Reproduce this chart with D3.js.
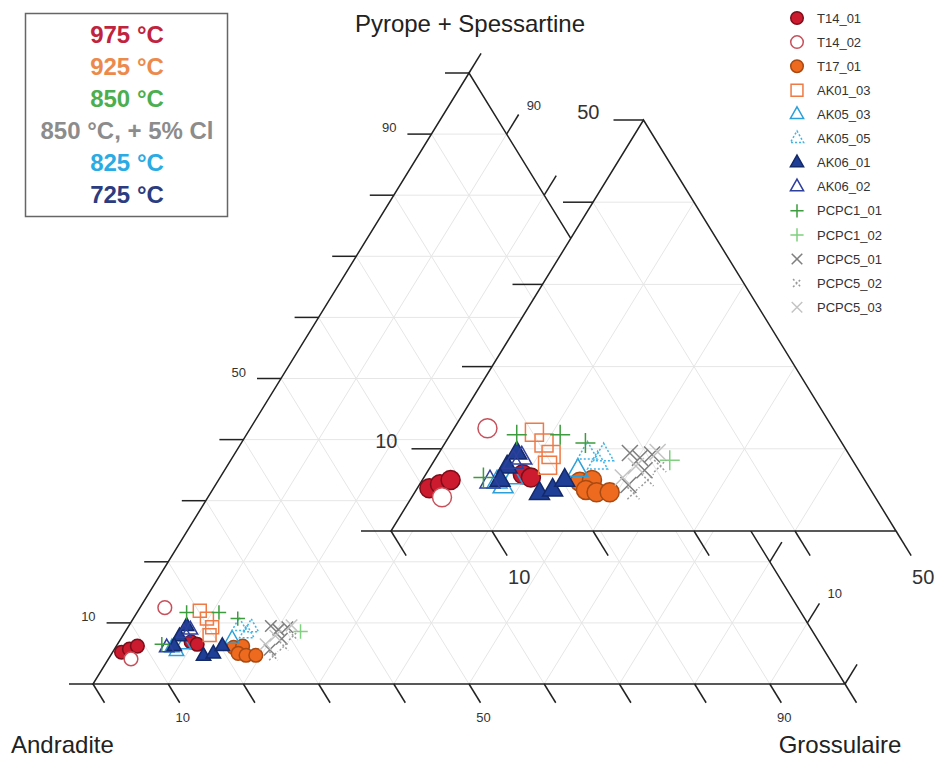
<!DOCTYPE html>
<html>
<head>
<meta charset="utf-8">
<script src="https://cdn.jsdelivr.net/npm/d3@7"></script>
<style>
  body { margin: 0; background: #fff; }
  svg { display: block; font-family: "Liberation Sans", Arial, sans-serif; }
</style>
</head>
<body>
<div id="chart"></div>
<script>
// Garnet compositions: [grossulaire, pyrope + spessartine] in %, andradite = 100 - both
const t14_01 = [[1.2, 5.2], [2.0, 5.7], [2.8, 6.2], [9.6, 6.9], [10.6, 6.5]];
const t14_02 = [[3.3, 12.5], [3.0, 4.1]];
const t17_01 = [[15.7, 6.0], [16.8, 6.2], [16.8, 5.0], [18.0, 4.7], [19.3, 4.7]];
const ak01_03 = [[8.2, 12.0], [9.8, 10.7], [11.2, 9.3], [11.5, 8.0]];
const ak05_03 = [[7.5, 6.0], [8.4, 5.4], [8.8, 6.5], [14.8, 7.4]];
const ak05_05 = [[14.7, 9.5], [16.3, 8.3], [16.4, 9.3]];
const ak06_01 = [[7.6, 7.8], [7.7, 9.5], [7.7, 6.2], [12.4, 4.6], [13.5, 5.0], [14.1, 6.2]];
const ak06_02 = [[6.8, 6.0], [7.9, 8.4], [8.5, 8.9]];
const pcpc1_01 = [[6.6, 11.7], [10.9, 11.7], [13.9, 10.7], [5.9, 6.5]];
const pcpc1_02 = [[23.3, 8.6]];
const pcpc5_01 = [[18.9, 9.5], [20.2, 8.9], [21.2, 9.3], [20.7, 5.6], [21.4, 7.4]];
const pcpc5_02 = [[21.7, 4.6], [22.3, 6.2], [22.7, 7.9]];
const pcpc5_03 = [[19.7, 6.5], [21.6, 9.6], [20.3, 7.9]];

const seriesNames = [
  "T14_01", "T14_02", "T17_01", "AK01_03", "AK05_03", "AK05_05", "AK06_01",
  "AK06_02", "PCPC1_01", "PCPC1_02", "PCPC5_01", "PCPC5_02", "PCPC5_03",
];
const seriesValues = [
  t14_01, t14_02, t17_01, ak01_03, ak05_03, ak05_05, ak06_01,
  ak06_02, pcpc1_01, pcpc1_02, pcpc5_01, pcpc5_02, pcpc5_03,
];

// Temperature box
const tempLabels = ["975 °C", "925 °C", "850 °C", "850 °C, + 5% Cl", "825 °C", "725 °C"];
const tempColours = ["#c0233d", "#ec8a4c", "#4cae4f", "#8c8c8c", "#2aabe3", "#2b3c80"];

// Axis ticks
const mainTicks = [0, 10, 20, 30, 40, 50, 60, 70, 80, 90, 100];
const mainTickLabels = [10, 50, 90];
const insetTicks = [0, 10, 20, 30, 40, 50];
const insetTickLabels = [10, 50];

// Marker styles, same order as seriesNames
const seriesStyles = [
  { shape: "circle", fill: "#cc1a2e", stroke: "#7a0e1b" },
  { shape: "circle", fill: "#fff", stroke: "#c8505a" },
  { shape: "circle", fill: "#ee6a1f", stroke: "#a84a12" },
  { shape: "square", fill: "none", stroke: "#ee7a45" },
  { shape: "triangle", fill: "none", stroke: "#2b9fd9" },
  { shape: "triangle", fill: "none", stroke: "#3fb4e6", dash: "2,2" },
  { shape: "triangle", fill: "#1f3f96", stroke: "#13296a" },
  { shape: "triangle", fill: "none", stroke: "#2f3f9c" },
  { shape: "plus", fill: "none", stroke: "#3d9c3d" },
  { shape: "plus", fill: "none", stroke: "#7fd07f" },
  { shape: "cross", fill: "none", stroke: "#7f7f7f" },
  { shape: "cross", fill: "none", stroke: "#9a9a9a", dash: "2,2", small: true },
  { shape: "cross", fill: "none", stroke: "#c4c4c4" },
];

const width = 940;
const height = 760;
const INK = "#222";
const GRID = "#e6e6e6";

/**
 * @function shapePath
 * @description Path of an R-like plotting symbol centred on 0,0
 */
function shapePath(shape, r) {
  switch (shape) {
    case "circle":
      return `M${r},0A${r},${r} 0 1,1 ${-r},0A${r},${r} 0 1,1 ${r},0Z`;
    case "square":
      return `M${-r},${-r}H${r}V${r}H${-r}Z`;
    case "triangle":
      return `M0,${-r * 1.15}L${r},${r * 0.62}L${-r},${r * 0.62}Z`;
    case "plus":
      return `M${-r},0H${r}M0,${-r}V${r}`;
    default:
      return `M${-r},${-r}L${r},${r}M${-r},${r}L${r},${-r}`;
  }
}

// Base marker radius per shape (inset size); main plot uses a smaller factor
const shapeSize = { circle: 9.5, square: 9, triangle: 10, plus: 10, cross: 8 };

/**
 * @function makeTernary
 * @description Build projection for a ternary triangle with side `span` (%)
 */
function makeTernary(span, left, right, top, bottom) {
  const xScale = d3.scaleLinear().domain([0, span]).range([left, right]);
  const yScale = d3.scaleLinear().domain([0, span]).range([bottom, top]);
  const project = (g, p) => [xScale(g + p / 2), yScale(p)];
  return { span, project };
}

function unit(a, b) {
  const dx = b[0] - a[0];
  const dy = b[1] - a[1];
  const len = Math.hypot(dx, dy);
  return [dx / len, dy / len];
}

/**
 * @function drawTriangle
 * @description Grid, edges, ticks and tick labels of one ternary frame
 */
function drawTriangle(svg, tern, ticks, labels, opt) {
  const s = tern.span;
  const P = tern.project;
  const g = svg.append("g");
  const line = d3.line();

  const vA = P(0, 0);
  const vG = P(s, 0);
  const vP = P(0, s);

  // White background (hides whatever lies behind an inset)
  g.append("path")
    .attr("d", line([vA, vG, vP]) + "Z")
    .attr("fill", "#fff")
    .attr("stroke", "none");

  // Grid lines in the three directions
  const inner = ticks.filter((v) => v > 0 && v < s);
  inner.forEach((v) => {
    [
      [P(0, v), P(s - v, v)],
      [P(v, 0), P(v, s - v)],
      [P(s - v, 0), P(0, s - v)],
    ].forEach((seg) => {
      g.append("path")
        .attr("d", line(seg))
        .attr("stroke", GRID)
        .attr("stroke-width", 1)
        .attr("fill", "none");
    });
  });

  // Edges
  g.append("path")
    .attr("d", line([vA, vG, vP]) + "Z")
    .attr("fill", "none")
    .attr("stroke", INK)
    .attr("stroke-width", 1.5)
    .attr("stroke-linejoin", "miter");

  const downRight = unit(vP, vG);
  const upRight = unit(vA, vP);

  const tick = (p, d, len) =>
    g.append("path")
      .attr("d", line([p, [p[0] + d[0] * len, p[1] + d[1] * len]]))
      .attr("stroke", INK)
      .attr("stroke-width", 1.5);

  const label = (x, y, anchor, txt) =>
    g.append("text")
      .attr("x", x)
      .attr("y", y)
      .attr("text-anchor", anchor)
      .attr("font-size", opt.fontSize)
      .attr("fill", "#333")
      .text(txt);

  ticks.forEach((v) => {
    // Left axis: horizontal ticks
    const pl = P(0, v);
    tick(pl, [-1, 0], opt.leftLen);
    if (labels.includes(v)) {
      label(pl[0] - opt.leftLen - opt.leftGap, pl[1] + opt.leftDy, "end", v);
    }
    // Bottom axis
    const pb = P(v, 0);
    tick(pb, downRight, opt.bottomLen);
    if (labels.includes(v)) {
      const ex = pb[0] + downRight[0] * opt.bottomLen;
      const ey = pb[1] + downRight[1] * opt.bottomLen;
      label(ex + opt.bottomDx, ey + opt.bottomDy, "middle", v);
    }
    // Right axis
    if (opt.rightLen) {
      const pr = P(s - v, v);
      tick(pr, upRight, opt.rightLen);
      if (labels.includes(v)) {
        const ex = pr[0] + upRight[0] * opt.rightLen;
        const ey = pr[1] + upRight[1] * opt.rightLen;
        label(ex + opt.rightDx, ey + opt.rightDy, "start", v);
      }
    }
  });
}

/**
 * @function drawPoints
 * @description All series as R-like symbols
 */
function drawPoints(svg, tern, factor) {
  const g = svg.append("g");
  seriesValues.forEach((vals, i) => {
    const st = seriesStyles[i];
    const r = shapeSize[st.shape] * factor * (st.small ? 0.75 : 1);
    g.selectAll(null)
      .data(vals)
      .enter()
      .append("path")
      .attr("d", shapePath(st.shape, r))
      .attr("transform", (d) => {
        const p = tern.project(d[0], d[1]);
        return `translate(${p[0]},${p[1]})`;
      })
      .attr("fill", st.fill)
      .attr("stroke", st.stroke)
      .attr("stroke-width", 1.5)
      .attr("stroke-dasharray", st.dash || null);
  });
}

function getChart() {
  const svg = d3
    .select("#chart")
    .append("svg")
    .attr("width", width)
    .attr("height", height)
    .attr("viewBox", `0 0 ${width} ${height}`);

  svg.append("rect").attr("width", width).attr("height", height).attr("fill", "#fff");

  // Main triangle 0-100 %
  const main = makeTernary(100, 93, 845, 73, 684);
  drawTriangle(svg, main, mainTicks, mainTickLabels, {
    fontSize: 13,
    leftLen: 24, leftGap: 11, leftDy: -2,
    bottomLen: 22, bottomDx: 3, bottomDy: 19,
    rightLen: 23, rightDx: 8, rightDy: -5,
  });

  // Zoomed inset 0-50 %
  const inset = makeTernary(50, 391, 896, 120, 531);
  drawTriangle(svg, inset, insetTicks, insetTickLabels, {
    fontSize: 20,
    leftLen: 30, leftGap: 14, leftDy: -1,
    bottomLen: 29, bottomDx: 12, bottomDy: 28,
    rightLen: 0,
  });

  drawPoints(svg, main, 0.72);
  drawPoints(svg, inset, 1);

  // Apex titles
  const title = (x, y, anchor, txt) =>
    svg.append("text")
      .attr("x", x)
      .attr("y", y)
      .attr("text-anchor", anchor)
      .attr("font-size", 24)
      .attr("fill", INK)
      .text(txt);
  title(470, 32, "middle", "Pyrope + Spessartine");
  title(11, 753, "start", "Andradite");
  title(840, 753, "middle", "Grossulaire");

  // Temperature box
  svg.append("rect")
    .attr("x", 25.5)
    .attr("y", 13.5)
    .attr("width", 202)
    .attr("height", 203)
    .attr("fill", "#fff")
    .attr("stroke", "#666")
    .attr("stroke-width", 1.5);

  svg.selectAll(".temp")
    .data(tempLabels)
    .enter()
    .append("text")
    .attr("class", "temp")
    .attr("x", 127)
    .attr("y", (d, i) => 43 + i * 32)
    .attr("text-anchor", "middle")
    .attr("font-size", 24)
    .attr("font-weight", "bold")
    .attr("fill", (d, i) => tempColours[i])
    .text((d) => d);

  // Sample legend
  const legend = svg.append("g");
  seriesNames.forEach((name, i) => {
    const st = seriesStyles[i];
    const y = 18 + i * 24.1;
    const r = shapeSize[st.shape] * 0.66 * (st.small ? 0.75 : 1);
    legend.append("path")
      .attr("d", shapePath(st.shape, r))
      .attr("transform", `translate(797,${y})`)
      .attr("fill", st.fill)
      .attr("stroke", st.stroke)
      .attr("stroke-width", 1.5)
      .attr("stroke-dasharray", st.dash || null);
    legend.append("text")
      .attr("x", 817)
      .attr("y", y)
      .attr("dy", "0.36em")
      .attr("font-size", 13)
      .attr("fill", "#333")
      .text(name);
  });
}

getChart();
</script>
</body>
</html>
